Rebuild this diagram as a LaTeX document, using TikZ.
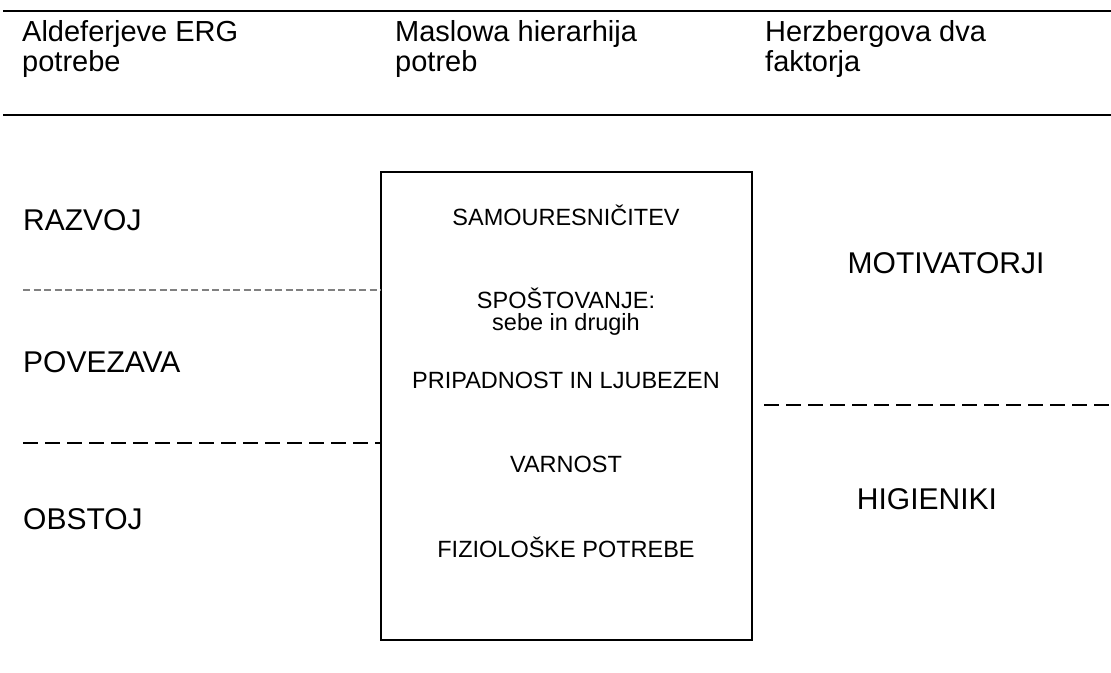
\documentclass[tikz,border=0pt]{standalone}
\usepackage{fontspec}
\setmainfont{Liberation Sans}
\begin{document}
\begin{tikzpicture}[x=1pt,y=-1pt,
  head/.style={inner sep=0pt,anchor=base west,font=\fontsize{29}{30}\selectfont,align=left},
  side/.style={inner sep=0pt,anchor=base,font=\fontsize{30}{30}\selectfont},
  lside/.style={side,anchor=base west},
  lvl/.style={inner sep=0pt,anchor=base,font=\fontsize{23.5}{24}\selectfont},
  rule/.style={line width=1.6pt},
  greydash/.style={draw=gray,line width=1.4pt,dash pattern=on 7pt off 3.5pt},
  blackdash/.style={draw=black,line width=2pt,dash pattern=on 15pt off 7pt}]
\useasboundingbox (0,0) rectangle (1111,672);
% header rules
\coordinate (r1a) at (3,11);  \coordinate (r1b) at (1111,11);
\coordinate (r2a) at (3,115); \coordinate (r2b) at (1111,115);
\draw[rule] (r1a) -- (r1b);
\draw[rule] (r2a) -- (r2b);
% headers
\node[head] (h1) at (22,41) {Aldeferjeve ERG};
\node[head] (h1b) at (22,71) {potrebe};
\node[head] (h2) at (395,41) {Maslowa hierarhija};
\node[head] (h2b) at (395,71) {potreb};
\node[head] (h3) at (765,41) {Herzbergova dva};
\node[head] (h3b) at (765,71) {faktorja};
% Maslow box
\node[draw,line width=1.3pt,inner sep=0pt,minimum width=371pt,minimum height=468pt] (box) at (566.5,406) {};
\node[lvl] (m1) at (566,225) {SAMOURESNIČITEV};
\node[lvl] (m2) at (566,308) {SPOŠTOVANJE:};
\node[lvl] (m2b) at (566,330) {sebe in drugih};
\node[lvl] (m3) at (566,388) {PRIPADNOST IN LJUBEZEN};
\node[lvl] (m4) at (566,472) {VARNOST};
\node[lvl] (m5) at (566,557) {FIZIOLOŠKE POTREBE};
% ERG
\node[lside] (e1) at (23,230) {RAZVOJ};
\node[lside] (e2) at (23,372) {POVEZAVA};
\node[lside] (e3) at (23,529) {OBSTOJ};
\coordinate (g1) at (23,290);
\coordinate (g2) at (23,443);
\draw[greydash] (g1) -- (g1 -| box.west);
\draw[blackdash] (g2) -- (g2 -| box.west);
% Herzberg
\node[side] (z1) at (946,273) {MOTIVATORJI};
\node[side] (z2) at (927,509) {HIGIENIKI};
\coordinate (d1) at (764,405);
\coordinate (d2) at (1111,405);
\draw[blackdash] (d1) -- (d2);
\end{tikzpicture}
\end{document}
